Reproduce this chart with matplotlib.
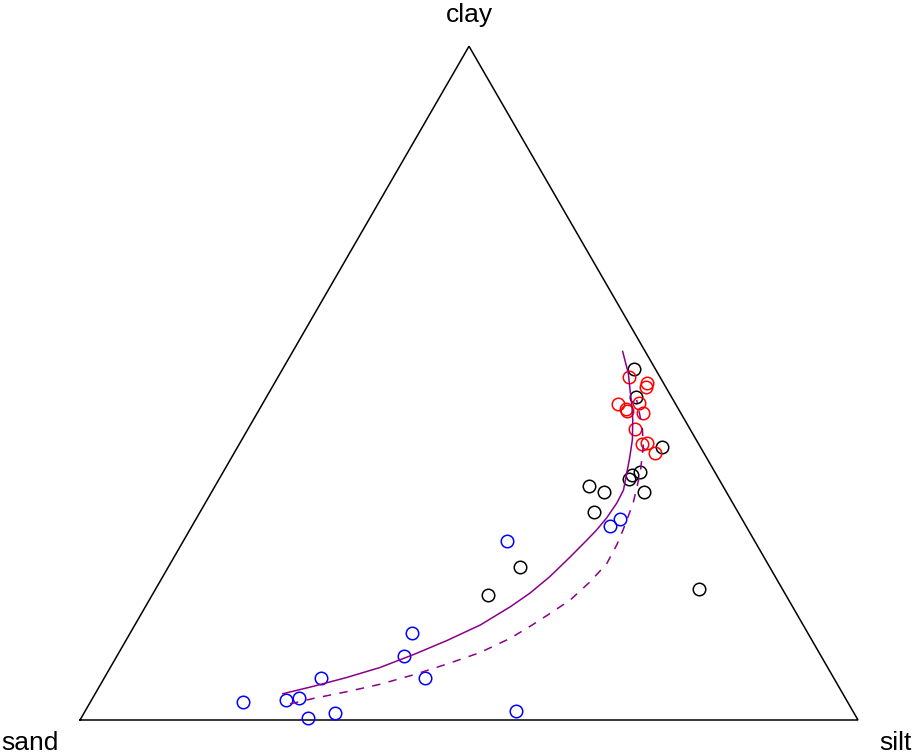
import numpy as np
import matplotlib
matplotlib.use("Agg")
import matplotlib.pyplot as plt

# ── sediment compositions (percent: sand, silt, clay) ──
black_sand = [2.7, 4.6, 4.9, 9.6, 10.9, 11.5, 17.2, 15.7, 10.6, 18.5, 32.1, 38.3, 10.7]
black_silt = [45.2, 47.5, 54.6, 53.6, 52.7, 52.7, 48.1, 50.5, 55.5, 50.7, 45.2, 43.2, 69.9]
black_clay = [52.1, 47.9, 40.5, 36.8, 36.4, 35.8, 34.7, 33.8, 33.9, 30.8, 22.7, 18.5, 19.4]

red_sand = [4.0, 2.1, 2.6, 7.4, 6.8, 6.7, 4.6, 4.9, 7.0, 7.3, 6.6, 6.3]
red_silt = [45.1, 47.9, 48.0, 45.7, 47.1, 47.4, 48.3, 49.6, 49.8, 51.7, 52.3, 54.0]
red_clay = [50.9, 50.0, 49.4, 46.9, 46.1, 45.9, 47.1, 45.5, 43.2, 41.0, 41.1, 39.7]

blue_sand = [31.8, 15.7, 17.5, 50.9, 53.6, 65.9, 52.5, 77.7, 72.1, 70.2, 70.6, 66.7, 43.3]
blue_silt = [41.6, 54.5, 53.7, 36.2, 36.9, 27.9, 41.2, 19.6, 25.0, 26.6, 29.1, 32.3, 55.4]
blue_clay = [26.6, 29.8, 28.8, 12.9, 9.5, 6.2, 6.3, 2.7, 2.9, 3.2, 0.3, 1.0, 1.3]

# fitted curve (solid) and its companion (dashed)
fit_sand = [71.9, 67.5, 62.6, 57.6, 52.3, 47.0, 41.5, 36.3, 32.8, 29.0, 24.9, 21.5,
            19.5, 17.3, 14.9, 13.1, 11.6, 9.9, 8.2, 6.7, 5.8, 4.8, 3.8, 2.9]
fit_silt = [24.1, 27.5, 31.1, 34.7, 38.0, 41.3, 44.4, 46.9, 48.4, 49.8, 50.9, 51.8,
            52.3, 52.7, 52.9, 52.8, 52.1, 51.2, 50.2, 48.8, 47.7, 46.2, 44.8, 42.4]
fit_clay = [3.9, 5.0, 6.3, 7.8, 9.7, 11.8, 14.1, 16.8, 18.8, 21.3, 24.2, 26.7,
            28.2, 30.0, 32.2, 34.1, 36.4, 38.9, 41.6, 44.5, 46.5, 49.0, 51.5, 54.7]

alt_sand = [71.8, 68.4, 63.6, 58.8, 53.8, 48.7, 43.6, 38.7, 35.2, 31.7, 28.1,
            24.2, 20.7, 18.0, 16.1, 12.8, 9.7, 7.3, 6.2, 5.4, 4.7]
alt_silt = [25.8, 28.4, 32.2, 35.9, 39.5, 43.0, 46.4, 49.2, 50.9, 52.5, 54.1,
            55.3, 56.1, 56.0, 55.7, 55.0, 53.7, 52.1, 50.8, 49.3, 47.8]
alt_clay = [2.4, 3.2, 4.2, 5.3, 6.7, 8.3, 10.0, 12.1, 13.9, 15.8, 17.8,
            20.5, 23.2, 26.0, 28.2, 32.2, 36.6, 40.6, 43.0, 45.3, 47.5]

labels = ["sand", "silt", "clay"]


def to_xy(sand, silt, clay):
    sand, silt, clay = np.asarray(sand), np.asarray(silt), np.asarray(clay)
    tot = sand + silt + clay
    x = (silt + clay / 2) / tot
    y = (clay / tot) * np.sqrt(3) / 2
    return x, y


fig = plt.figure(figsize=(9.16, 7.56), dpi=100)
ax = fig.add_axes([0, 0, 1, 1])
ax.set_xlim(-80 / 778, 836 / 778)
ax.set_ylim(-36 / 778, 720 / 778)
ax.axis("off")

# triangle
tx, ty = to_xy([1, 0, 0, 1], [0, 1, 0, 0], [0, 0, 1, 0])
ax.plot(tx, ty, color="black", lw=1.1, solid_joinstyle="miter", zorder=1)

mk = dict(marker="o", ls="none", ms=9, mfc="none", mew=1.1, zorder=2)
for s, si, c, col in [(black_sand, black_silt, black_clay, "black"),
                      (red_sand, red_silt, red_clay, "#FF0000"),
                      (blue_sand, blue_silt, blue_clay, "#0000FF")]:
    x, y = to_xy(s, si, c)
    ax.plot(x, y, mec=col, **mk)

purple = "#8B008B"
x, y = to_xy(fit_sand, fit_silt, fit_clay)
ax.plot(x, y, color=purple, lw=1.1, solid_joinstyle="round", zorder=3)
x, y = to_xy(alt_sand, alt_silt, alt_clay)
ax.plot(x, y, color=purple, lw=1.1, dashes=(5.5, 5.5), zorder=3)

font = dict(family="Liberation Sans", fontsize=19)
ax.text(-50 / 778, -23 / 778, labels[0], ha="center", va="center", **font)
ax.text(815 / 778, -23 / 778, labels[1], ha="center", va="center", **font)
ax.text(389 / 778, 705 / 778, labels[2], ha="center", va="center", **font)

fig.savefig("out.png", dpi=100)
